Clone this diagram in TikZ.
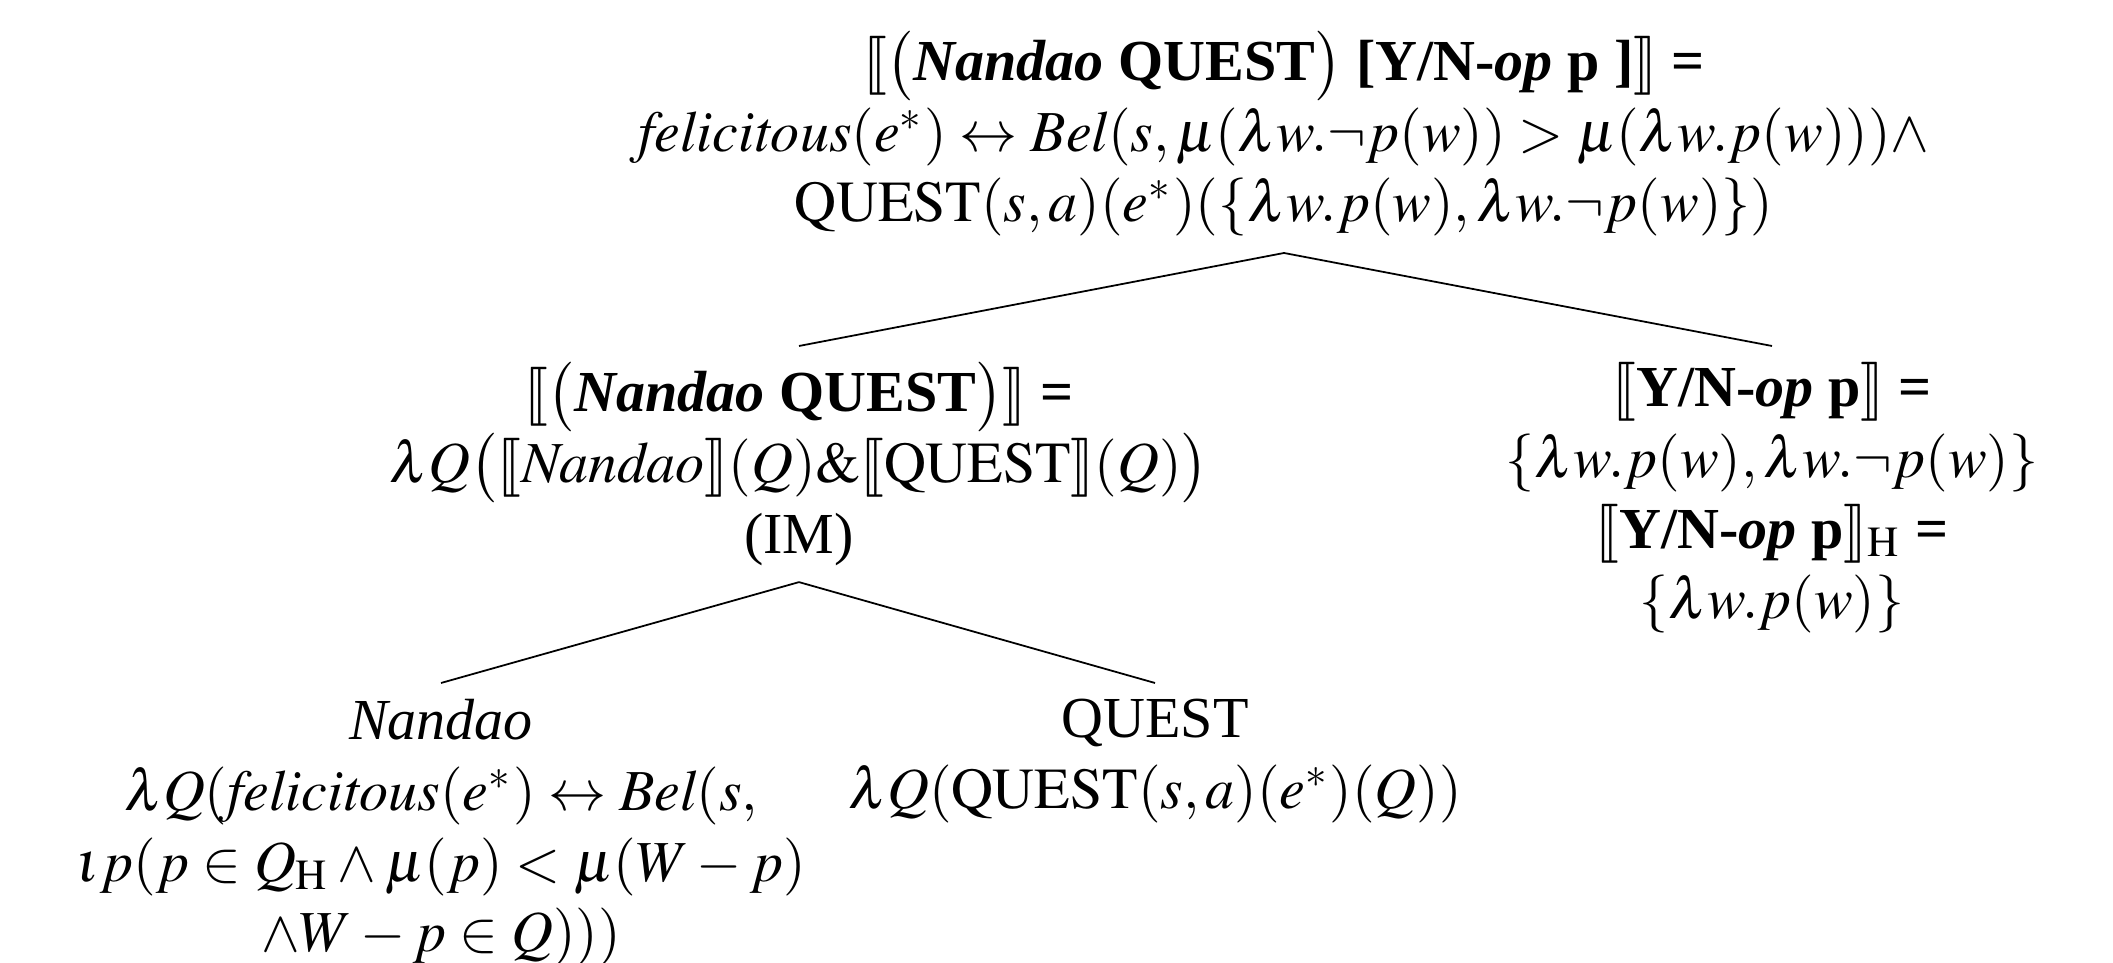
\documentclass[tikz,border=0pt]{standalone}
\usepackage{mathptmx}
\usepackage{stmaryrd}
\usepackage[no-math]{fontspec}
\setmainfont{Liberation Serif}
\begin{document}
\begin{tikzpicture}[x=0.1697pt,y=-0.1697pt,
  tnode/.style={align=center,inner sep=2.6pt,font=\fontsize{9.85}{12}\selectfont},
  branch/.style={line width=0.3pt}]
\useasboundingbox (0,0) rectangle (2113,963);

% root
\node[tnode,anchor=south] (root) at (1284,253) {%
  $\llbracket\big($\textbf{\textit{Nandao} QUEST}$\big)$ \textbf{[Y/N-\textit{op} p ]}$\rrbracket$ \textbf{=}\\
  $\mathit{felicitous}(e^*)\leftrightarrow\mathit{Bel}(s,\mu(\lambda w.\neg p(w))>\mu(\lambda w.p(w)))\wedge$\\
  $\mathrm{QUEST}(s,a)(e^*)(\{\lambda w.p(w),\lambda w.\neg p(w)\})$};

% left daughter: the complex head
\node[tnode,anchor=north] (head) at (799,346) {%
  $\llbracket\big($\textbf{\textit{Nandao} QUEST}$\big)\rrbracket$ \textbf{=}\\
  $\lambda Q\big(\llbracket\mathit{Nandao}\rrbracket(Q)\&\llbracket\mathrm{QUEST}\rrbracket(Q)\big)$\\
  (IM)};

% right daughter: the operator phrase
\node[tnode,anchor=north] (op) at (1772,346) {%
  $\llbracket$\textbf{Y/N-\textit{op} p}$\rrbracket$ \textbf{=}\\
  $\{\lambda w.p(w),\lambda w.\neg p(w)\}$\\
  $\llbracket$\textbf{Y/N-\textit{op} p}$\rrbracket_{\mathrm{H}}$ \textbf{=}\\
  $\{\lambda w.p(w)\}$};

% leaves
\node[tnode,anchor=north] (nandao) at (441,683) {%
  \textit{Nandao}\\
  $\lambda Q(\mathit{felicitous}(e^*)\leftrightarrow\mathit{Bel}(s,$\\
  $\iota p(p\in Q_{\mathrm{H}}\wedge\mu(p)<\mu(W-p)$\\
  $\wedge W-p\in Q)))$};

\node[tnode,anchor=north] (quest) at (1155,683) {%
  QUEST\\
  $\lambda Q(\mathrm{QUEST}(s,a)(e^*)(Q))$};

% branches
\draw[branch] (root.south) -- (head.north);
\draw[branch] (root.south) -- (op.north);
\draw[branch] (head.south) -- (nandao.north);
\draw[branch] (head.south) -- (quest.north);
\end{tikzpicture}
\end{document}
